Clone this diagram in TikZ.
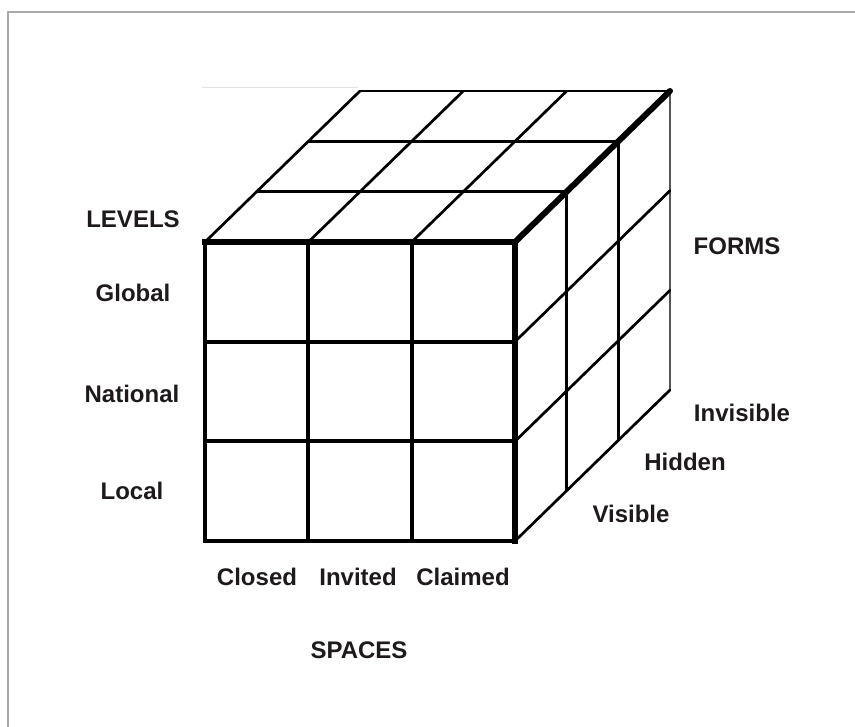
\documentclass[tikz,border=0pt]{standalone}
\usepackage{fontspec}
\setmainfont{Liberation Sans}
\definecolor{txt}{HTML}{1E1A1B}
\definecolor{framec}{HTML}{AAAAAA}
\definecolor{ghost}{HTML}{E2E2E2}
\begin{document}
\begin{tikzpicture}[x=1pt,y=-1pt,
  lbl/.style={font=\bfseries\fontsize{24}{28}\selectfont, text=txt, anchor=base, inner sep=0pt},
  gridthin/.style={line width=2.7pt, line cap=round, line join=round},
  gridfront/.style={line width=4pt, line cap=rect},
  gridedge/.style={line width=6pt, line cap=rect, line join=miter}]
\useasboundingbox (0,0) rectangle (855,727);
% outer frame (cropped on right and bottom)
\draw[framec, line width=1.5pt] (8,727) -- (8,12) -- (855,12);
\draw[ghost, line width=1pt] (202,88) -- (358,88);

% ---- top face ----
\foreach \i in {0,1,2} {
  \draw[gridthin] ({205+310*\i/3},242) -- ({360+310*\i/3},91);
}
\foreach \j in {1,2} {
  \draw[gridthin] ({205+155*\j/3},{242-151*\j/3}) -- ({515+155*\j/3},{242-151*\j/3});
}
\draw[gridthin] (360,91) -- (670,91);

% ---- right side face ----
\foreach \j in {1,2} {
  \draw[gridthin] ({515+155*\j/3},{242-151*\j/3}) -- ({515+155*\j/3},{541-151*\j/3});
}
\draw[framec!50!black, line width=2pt] (670,91) -- (670,390);
\foreach \k in {1,2} {
  \draw[gridthin] (515,{242+299*\k/3}) -- (670,{91+299*\k/3});
}
\draw[gridthin] (515,541) -- (670,390);

% ---- front face ----
\foreach \i in {1,2} {
  \draw[gridfront] ({205+310*\i/3},242) -- ({205+310*\i/3},541);
  \draw[gridfront] (205,{242+299*\i/3}) -- (515,{242+299*\i/3});
}
\draw[gridfront, line width=4.4pt] (205,242) -- (205,541) -- (515,541);
\draw[gridedge] (205,242) -- (515,242) -- (515,541);
\draw[gridedge, line cap=round] (515,242) -- (670,91);

% ---- labels ----
\node[lbl] (levels) at (133,228) {LEVELS};
\node[lbl] (global) at (133,302) {Global};
\node[lbl] (national) at (132,403) {National};
\node[lbl] (local) at (132,500) {Local};
\node[lbl] (forms) at (737,255) {FORMS};
\node[lbl] (invisible) at (742,422) {Invisible};
\node[lbl] (hidden) at (685,471) {Hidden};
\node[lbl] (visible) at (631,522) {Visible};
\node[lbl] (closed) at (257,585) {Closed};
\node[lbl] (invited) at (358,585) {Invited};
\node[lbl] (claimed) at (463,585) {Claimed};
\node[lbl] (spaces) at (359,658) {SPACES};
\end{tikzpicture}
\end{document}
